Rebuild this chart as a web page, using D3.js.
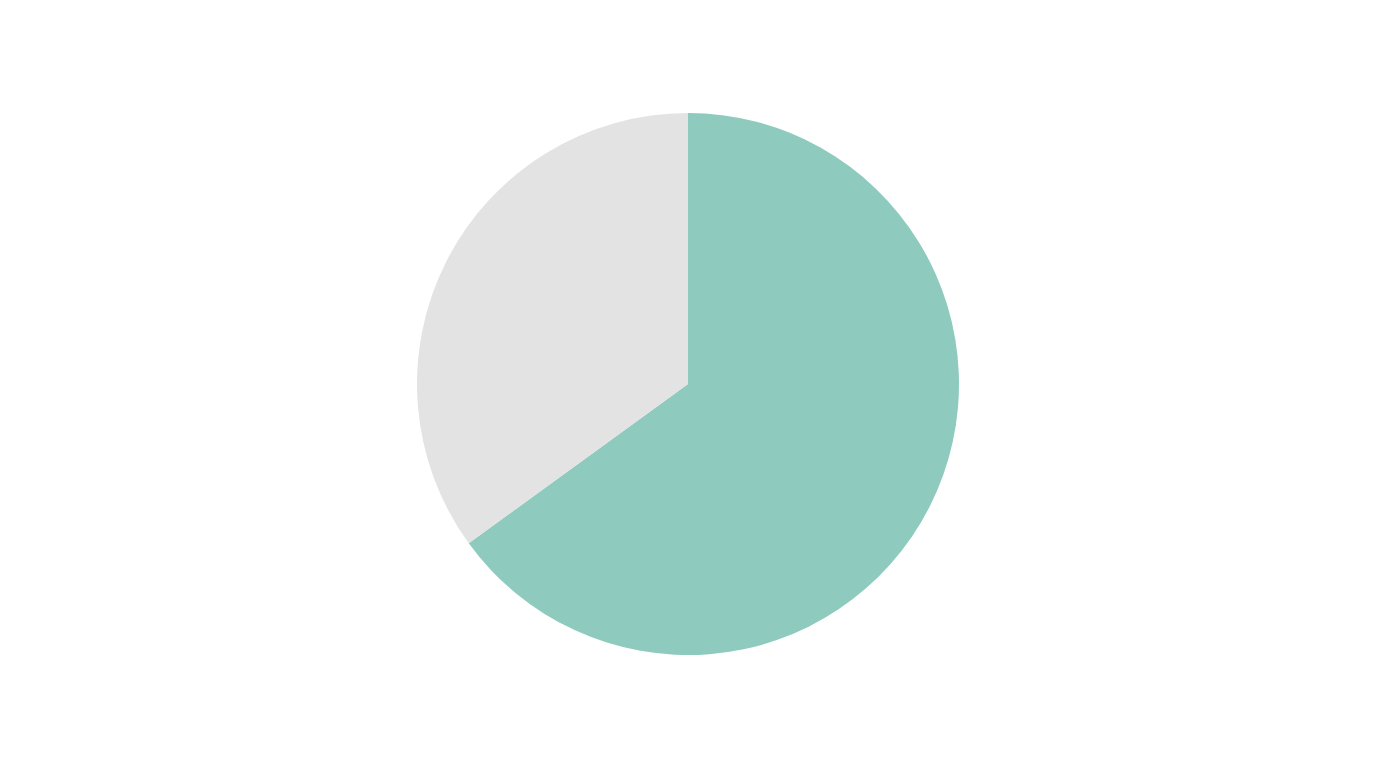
<!DOCTYPE html>
<html>
<head>
<meta charset="utf-8">
<script src="https://cdn.jsdelivr.net/npm/d3@7"></script>
<style>
  body { margin: 0; background: #ffffff; }
</style>
</head>
<body>
<script>
// Chart data
var categories = ["A", "B"];
var values = [65, 35];
var colors = ["#8ecbbe", "#e3e3e3"];

var svgWidth = 1376;
var svgHeight = 768;
var radius = 271;

var svg = d3.select("body")
  .append("svg")
  .attr("width", svgWidth)
  .attr("height", svgHeight);

var chartGroup = svg.append("g")
  .attr("transform", `translate(688, 384)`);

var color = d3.scaleOrdinal()
  .domain(categories)
  .range(colors);

var pie = d3.pie()
  .sort(null)
  .value(d => d.value);

var arc = d3.arc()
  .innerRadius(0)
  .outerRadius(radius);

var data = categories.map((c, i) => ({ name: c, value: values[i] }));

chartGroup.selectAll("path")
  .data(pie(data))
  .enter()
  .append("path")
  .attr("d", arc)
  .attr("fill", d => color(d.data.name));
</script>
</body>
</html>
